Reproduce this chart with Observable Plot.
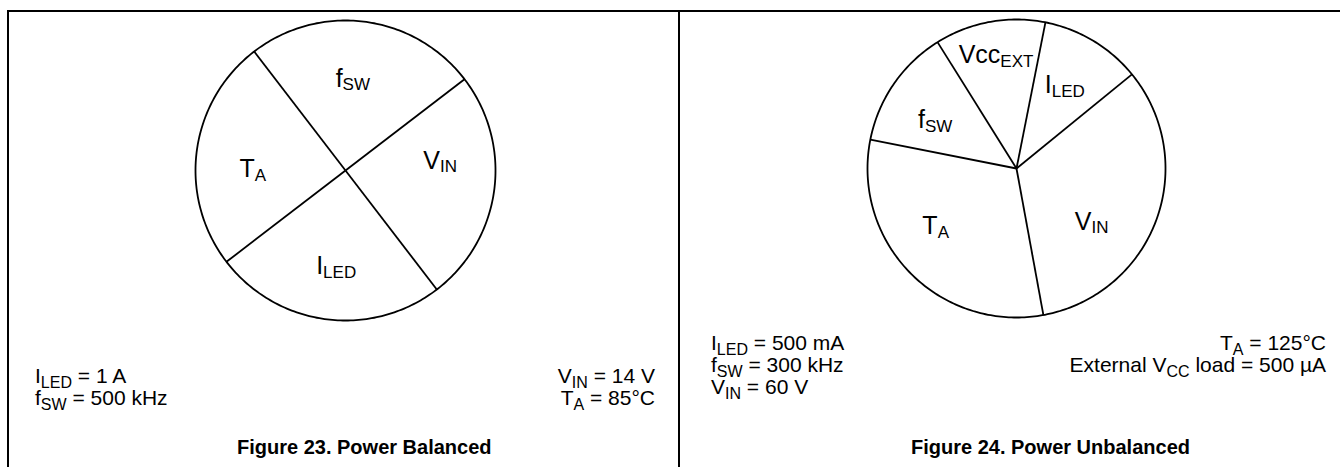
<!DOCTYPE html>
<html>
<head>
<meta charset="utf-8">
<script src="https://cdn.jsdelivr.net/npm/d3@7"></script>
<script src="https://cdn.jsdelivr.net/npm/@observablehq/plot@0.6"></script>
<style>
  html, body { margin: 0; padding: 0; background: #fff; }
  #page { position: relative; width: 1340px; height: 467px; overflow: hidden; background: #fff;
          font-family: "Liberation Sans", Arial, Helvetica, sans-serif; color: #000; }
  .frame { position: absolute; left: 7px; top: 10px; width: 1400px; height: 500px;
           border-left: 2px solid #000; border-top: 2px solid #000; }
  .divider { position: absolute; left: 678px; top: 10px; height: 500px; border-left: 2px solid #000; }
  .note { position: absolute; font-size: 21px; line-height: 21px; white-space: nowrap; }
  .note.r { text-align: right; }
  .sub { font-size: 16px; vertical-align: -4.5px; line-height: 0; }
  .cap { position: absolute; font-size: 20px; line-height: 20px; font-weight: bold; white-space: nowrap; }
</style>
</head>
<body>
<div id="page">
  <div class="frame"></div>
  <div class="divider"></div>
</div>
<script>
// ---------- data ----------
// Figure 23: power balanced (share of each contributor, %)
const balancedLabels = ["f{SW}", "V{IN}", "I{LED}", "T{A}"];
const balancedShares = [25, 25, 25, 25];
// Figure 24: power unbalanced (share of each contributor, %)
const unbalancedLabels = ["Vcc{EXT}", "I{LED}", "V{IN}", "T{A}", "f{SW}"];
const unbalancedShares = [12, 11, 33, 31, 13];
// operating conditions
const fig23NotesLeft = ["I{LED} = 1 A", "f{SW} = 500 kHz"];
const fig23NotesRight = ["V{IN} = 14 V", "T{A} = 85°C"];
const fig24NotesLeft = ["I{LED} = 500 mA", "f{SW} = 300 kHz", "V{IN} = 60 V"];
const fig24NotesRight = ["T{A} = 125°C", "External V{CC} load = 500 µA"];
const captions = ["Figure 23. Power Balanced", "Figure 24. Power Unbalanced"];

// ---------- drawing ----------
const FONT = "Liberation Sans, Arial, Helvetica, sans-serif";
const page = document.getElementById("page");

function subTspans(el, str, subSize, shift) {
  const m = str.match(/^(.*?)\{(.*?)\}(.*)$/);
  el.textContent = "";
  const ns = "http://www.w3.org/2000/svg";
  if (!m) { el.textContent = str; return; }
  const a = document.createElementNS(ns, "tspan"); a.textContent = m[1]; el.appendChild(a);
  const b = document.createElementNS(ns, "tspan"); b.textContent = m[2];
  b.setAttribute("font-size", subSize); b.setAttribute("dy", shift); el.appendChild(b);
  if (m[3]) { const c = document.createElementNS(ns, "tspan"); c.textContent = m[3];
    c.setAttribute("dy", -shift); el.appendChild(c); }
}

function pie({labels, shares, startDeg, cx, cy, R, style}) {
  const data = labels.map((label, i) => ({label, share: shares[i]}));
  const a0 = startDeg * Math.PI / 180;
  const arcs = d3.pie().sort(null).value(d => d.share).startAngle(a0).endAngle(a0 + 2 * Math.PI)(data);
  const ring = d3.range(0, 361).map(k => ({t: k * Math.PI / 180}));
  const m = 12, size = 2 * R + 2 * m;
  const marks = [
    Plot.line(ring, {x: d => Math.sin(d.t), y: d => Math.cos(d.t), stroke: "#000", strokeWidth: 1.8}),
    Plot.link(arcs, {x1: 0, y1: 0, x2: d => Math.sin(d.startAngle), y2: d => Math.cos(d.startAngle),
                     stroke: "#000", strokeWidth: 1.8})
  ];
  for (const a of arcs) {
    const mid = (a.startAngle + a.endAngle) / 2;
    const s = style[a.data.label] || {};
    const r = s.r ?? 0.63;
    marks.push(Plot.text([a], {
      x: () => r * Math.sin(mid), y: () => r * Math.cos(mid), text: d => d.data.label,
      fontSize: 25, fontFamily: FONT, fill: "#000", textAnchor: "middle",
      dx: s.dx || 0, dy: s.dy || 0
    }));
  }
  const svg = Plot.plot({
    width: size, height: size, margin: m,
    x: {domain: [-1, 1], axis: null}, y: {domain: [-1, 1], axis: null},
    marks
  });
  svg.style.position = "absolute";
  svg.style.left = (cx - size / 2) + "px";
  svg.style.top = (cy - size / 2) + "px";
  svg.style.background = "transparent";
  svg.style.overflow = "visible";
  svg.querySelectorAll("text").forEach(t => subTspans(t, t.textContent, 17, 3.5));
  page.appendChild(svg);
}

pie({labels: balancedLabels, shares: balancedShares, startDeg: -37.5, cx: 345, cy: 169.5, R: 150,
     style: {"f{SW}": {dx: -5, dy: 2}, "V{IN}": {dx: 1, dy: -22}, "I{LED}": {dx: 3, dy: 2}, "T{A}": {dx: 1, dy: 11}}});
pie({labels: unbalancedLabels, shares: unbalancedShares, startDeg: -32, cx: 1016, cy: 168, R: 149,
     style: {"Vcc{EXT}": {r: 0.76, dy: -2}, "I{LED}": {dy: -3}, "V{IN}": {dx: -13, dy: 21}, "T{A}": {dx: -14, dy: -8}, "f{SW}": {dx: -4, dy: 5}}});

const rich = s => s.replace(/\{(.*?)\}/g, '<span class="sub">$1</span>');
const ASC = 17.8; // baseline offset inside a 21px line box

function notes(lines, {x, right, baselines}) {
  lines.forEach((s, i) => {
    const d = document.createElement("div");
    d.className = "note" + (right != null ? " r" : "");
    d.innerHTML = rich(s);
    d.style.top = (baselines[i] - ASC) + "px";
    if (right != null) d.style.right = (1340 - right) + "px"; else d.style.left = x + "px";
    page.appendChild(d);
  });
}
notes(fig23NotesLeft, {x: 35, baselines: [383, 405]});
notes(fig23NotesRight, {right: 655, baselines: [383, 405]});
notes(fig24NotesLeft, {x: 711, baselines: [350, 372, 394]});
notes(fig24NotesRight, {right: 1326, baselines: [350, 372]});

[[captions[0], 237], [captions[1], 911]].forEach(([t, x]) => {
  const d = document.createElement("div");
  d.className = "cap"; d.textContent = t;
  d.style.left = x + "px"; d.style.top = (454 - 17) + "px";
  page.appendChild(d);
});
</script>
</body>
</html>
